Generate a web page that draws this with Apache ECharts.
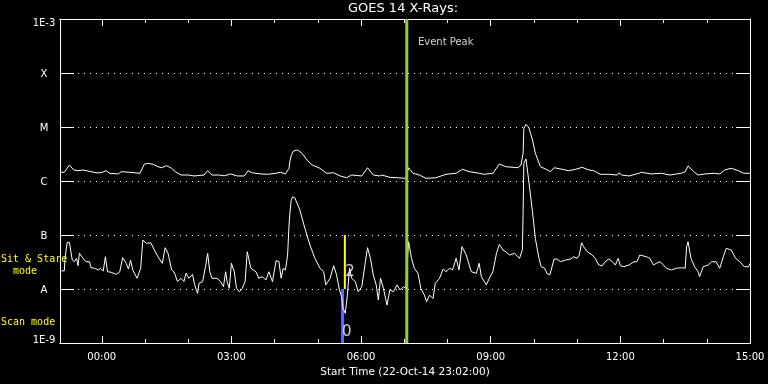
<!DOCTYPE html>
<html><head><meta charset="utf-8">
<script src="https://cdn.jsdelivr.net/npm/echarts@6/dist/echarts.min.js"></script>
<style>html,body{margin:0;padding:0;background:#000}#c{width:768px;height:384px}</style>
</head><body><div id="c"></div>
<script>
// time in minutes from 00:00 (23-Oct-14); start 23:02 = -58
const longTimes = [-57,-52,-45,-39,-33,-26,-15,-8,-1,6,11,23,27,39,53,59,64,71,78,83,90,97,102,110,121,128,142,147,153,163,170,179,188,198,203,209,221,230,242,248,255,260,261,263,266,272,278,285,292,303,312,322,331,340,347,361,369,377,386,389,400,422,426,432,441,450,464,478,492,501,510,524,531,543,552,561,578,582,585,586,589,593,598,602,609,616,623,628,639,648,658,667,676,683,692,704,716,718,722,732,746,749,763,777,789,798,805,810,814,823,828,837,851,858,865,874,884,891,900];
const longFlux = [1.45e-6,1.45e-6,1.98e-6,1.60e-6,1.55e-6,1.60e-6,1.49e-6,1.42e-6,1.42e-6,1.55e-6,1.39e-6,1.35e-6,1.49e-6,1.45e-6,1.39e-6,2.04e-6,2.13e-6,2.04e-6,1.84e-6,1.76e-6,1.92e-6,1.72e-6,1.49e-6,1.29e-6,1.29e-6,1.24e-6,1.29e-6,1.55e-6,1.29e-6,1.29e-6,1.25e-6,1.35e-6,1.24e-6,1.24e-6,1.55e-6,1.42e-6,1.35e-6,1.33e-6,1.39e-6,1.45e-6,1.35e-6,1.72e-6,2.28e-6,2.94e-6,3.59e-6,3.75e-6,3.26e-6,2.45e-6,1.98e-6,1.72e-6,1.39e-6,1.42e-6,1.24e-6,1.15e-6,1.29e-6,1.24e-6,1.76e-6,1.29e-6,1.24e-6,1.29e-6,1.17e-6,1.12e-6,1.76e-6,1.39e-6,1.29e-6,1.12e-6,1.15e-6,1.33e-6,1.39e-6,1.65e-6,1.49e-6,1.39e-6,1.33e-6,1.39e-6,2.06e-6,1.84e-6,1.76e-6,1.98e-6,3.26e-6,9.45e-6,1.12e-5,9.7e-6,5.74e-6,3.26e-6,1.84e-6,1.67e-6,1.49e-6,1.76e-6,1.65e-6,1.55e-6,1.65e-6,1.79e-6,1.60e-6,1.55e-6,1.33e-6,1.33e-6,1.29e-6,1.42e-6,1.29e-6,1.24e-6,1.39e-6,1.45e-6,1.35e-6,1.39e-6,1.29e-6,1.35e-6,1.39e-6,1.49e-6,1.90e-6,1.45e-6,1.29e-6,1.35e-6,1.39e-6,1.35e-6,1.60e-6,1.72e-6,1.55e-6,1.39e-6,1.39e-6];
const shortTimes = [-56,-52,-51,-48,-45,-41,-38,-35,-33,-31,-26,-22,-17,-15,-10,-5,-2,2,5,8,13,20,25,29,34,37,40,43,49,54,57,62,68,73,78,84,88,92,97,100,102,105,110,114,117,121,126,129,133,135,140,144,147,150,153,160,165,169,172,174,177,180,184,187,191,195,199,202,207,214,218,223,228,232,237,242,246,249,252,255,258,260,261,263,265,268,275,282,289,296,303,308,311,317,322,326,330,333,335,338,341,344,347,352,356,361,366,369,373,377,381,384,387,391,396,400,405,410,414,419,422,426,430,434,439,443,448,451,455,460,463,469,474,478,483,487,492,496,500,506,513,520,524,527,534,538,543,548,552,557,561,566,573,580,584,585,586,589,593,598,602,607,610,615,618,622,624,628,632,637,644,651,655,660,663,666,669,674,681,685,690,695,699,704,709,713,717,720,725,732,739,743,747,749,756,761,766,770,775,780,784,791,798,805,810,812,814,818,823,828,830,835,842,847,853,858,863,867,874,880,886,892,898,900];
const shortFlux = [2.17e-8,2.17e-8,3.70e-8,7.3e-8,7.3e-8,3.44e-8,3.2e-8,3.70e-8,2.70e-8,4.58e-8,3.70e-8,3.2e-8,3.2e-8,2.48e-8,2.42e-8,2.25e-8,2.42e-8,2.15e-8,3.96e-8,2.09e-8,2.04e-8,1.87e-8,2.09e-8,3.80e-8,2.99e-8,2.35e-8,3.44e-8,2.25e-8,1.58e-8,2.42e-8,8.07e-8,7.0e-8,7.2e-8,5.27e-8,3.96e-8,2.99e-8,5.82e-8,4.58e-8,2.25e-8,2.09e-8,1.82e-8,1.37e-8,1.58e-8,1.37e-8,1.95e-8,1.58e-8,1.87e-8,1.19e-8,0.83e-8,1.27e-8,1.37e-8,2.59e-8,4.58e-8,2.09e-8,1.58e-8,1.58e-8,1.37e-8,1.10e-8,2.09e-8,1.37e-8,1.03e-8,2.99e-8,2.09e-8,1.03e-8,0.89e-8,1.03e-8,1.37e-8,4.9e-8,2.42e-8,2.09e-8,1.58e-8,1.69e-8,1.47e-8,2.09e-8,1.37e-8,3.34e-8,3.2e-8,1.58e-8,2.42e-8,2.25e-8,4.26e-8,1.53e-7,2.35e-7,4.45e-7,5.1e-7,4.9e-7,2.90e-7,1.33e-7,6.52e-8,3.70e-8,2.42e-8,2.09e-8,1.19e-8,1.58e-8,2.70e-8,1.82e-8,0.96e-8,0.72e-8,0.44e-8,0.355e-8,0.77e-8,2.42e-8,1.58e-8,1.37e-8,0.89e-8,1.10e-8,3.2e-8,5.82e-8,3.70e-8,1.82e-8,1.19e-8,0.626e-8,1.58e-8,1.03e-8,0.505e-8,0.96e-8,0.89e-8,1.19e-8,0.96e-8,1.10e-8,1.03e-8,7.5e-8,3.70e-8,2.42e-8,1.95e-8,1.03e-8,0.77e-8,0.58e-8,0.77e-8,0.67e-8,1.27e-8,1.58e-8,2.35e-8,2.09e-8,2.42e-8,2.25e-8,3.70e-8,2.25e-8,6.07e-8,4.26e-8,2.09e-8,1.95e-8,2.99e-8,1.69e-8,1.19e-8,1.58e-8,2.09e-8,4.58e-8,6.7e-8,5.27e-8,4.9e-8,4.26e-8,4.58e-8,3.70e-8,5.3e-8,2.7e-7,2.13e-6,2.55e-6,0.97e-6,2.7e-7,8.6e-8,3.70e-8,2.59e-8,2.42e-8,1.95e-8,1.82e-8,2.25e-8,3.59e-8,3.59e-8,3.2e-8,3.44e-8,3.59e-8,3.96e-8,3.70e-8,4.26e-8,7.2e-8,6.07e-8,4.9e-8,4.26e-8,3.70e-8,2.78e-8,2.70e-8,3.2e-8,3.59e-8,3.2e-8,2.78e-8,3.70e-8,2.70e-8,2.59e-8,2.78e-8,3.2e-8,3.2e-8,4.26e-8,4.39e-8,3.96e-8,3.70e-8,2.78e-8,2.99e-8,3.2e-8,2.78e-8,2.42e-8,2.25e-8,2.42e-8,2.48e-8,2.42e-8,6.07e-8,7.5e-8,3.70e-8,2.59e-8,2.09e-8,1.69e-8,2.59e-8,2.78e-8,3.2e-8,3.2e-8,2.42e-8,3.96e-8,5.67e-8,5.27e-8,3.70e-8,3.2e-8,2.59e-8,2.59e-8,2.99e-8];

const yTickLabels = ['1E-9','A','B','C','M','X','1E-3'];
const xTickValues = [0,180,360,540,720,900];
const xTickLabels = ['00:00','03:00','06:00','09:00','12:00','15:00'];
const xMinorTicks = [0,60,120,180,240,300,360,420,480,540,600,660,720,780,840,900];
const xRange = [-58, 900];
const yRange = [1e-9, 1e-3];
const eventPeakTime = 423.5;
const sitStareTime = 337.5;
const sitStareRange = [1e-7, 1e-8];
const scanTime = 334.3;
const scanRange = [1e-8, 1e-9];
const annotations = [
  {text:'Event Peak', t:439, f:3.67e-4},
  {text:'2', t:344.7, f:2.02e-8},
  {text:'0', t:340.2, f:1.56e-9}
];

const FONT = 'DejaVu Sans';
const white = '#ffffff';

function xAxisDef(pos, ticks, len, withLabels) {
  const a = {
    type:'value', position:pos, min:xRange[0], max:xRange[1],
    axisLine:{show:true, onZero:false, lineStyle:{color:white, width:1}},
    axisTick:{show:true, inside:true, length:len, customValues:ticks, lineStyle:{color:white,width:1}},
    axisLabel:{show:false},
    splitLine:{show:false}
  };
  if (withLabels) {
    a.axisLabel = {show:true, customValues:xTickValues, color:white, fontFamily:FONT, fontSize:10, margin:9,
      formatter:(v)=>{const i=xTickValues.indexOf(v); return i>=0?xTickLabels[i]:'';}};
    a.name = 'Start Time (22-Oct-14 23:02:00)';
    a.nameLocation = 'middle';
    a.nameGap = 19;
    a.nameTextStyle = {color:white, fontFamily:FONT, fontSize:10.5};
  }
  return a;
}

const chart = echarts.init(document.getElementById('c'), null, {renderer:'canvas'});
chart.setOption({
  backgroundColor:'#000000',
  animation:false,
  grid:{left:60, right:18, top:19, bottom:41, containLabel:false},
  graphic:[
    {type:'text', x:403, y:9, style:{text:'GOES 14 X-Rays:', fill:white, font:'13px "DejaVu Sans"', textAlign:'center', textVerticalAlign:'middle'}},
    {type:'text', left:1, top:253, style:{text:'Sit & Stare\n  mode', fill:'#ffff00', font:'10px "DejaVu Sans Mono"', lineHeight:12}},
    {type:'text', left:1, top:317, style:{text:'Scan mode', fill:'#ffff00', font:'10px "DejaVu Sans Mono"'}}
  ],
  xAxis:[
    xAxisDef('bottom', xTickValues, 7, true),
    xAxisDef('bottom', xMinorTicks, 4, false),
    xAxisDef('top', xTickValues, 7, false),
    xAxisDef('top', xMinorTicks, 4, false)
  ],
  yAxis:[
    {type:'log', logBase:10, position:'left', min:yRange[0], max:yRange[1],
     axisLine:{show:true, onZero:false, lineStyle:{color:white,width:1}},
     axisTick:{show:true, inside:true, length:14, lineStyle:{color:white,width:1}},
     minorTick:{show:false},
     axisLabel:{show:true, color:white, fontFamily:FONT, fontSize:10, align:'center', margin:16,
       formatter:(v)=>{const i=Math.round(Math.log10(v))+9; const s=yTickLabels[i]||'';
         if (i===6) return '{top|'+s+'}'; if (i===0) return '{bot|'+s+'}'; return '{mid|'+s+'}';},
       rich:{top:{padding:[9,0,0,0], color:white, fontFamily:FONT, fontSize:10},
             bot:{padding:[0,0,5,0], color:white, fontFamily:FONT, fontSize:10},
             mid:{padding:[2,0,0,0], color:white, fontFamily:FONT, fontSize:10}}},
     splitLine:{show:true, lineStyle:{color:white, width:1, type:[1,5]}}
    },
    {type:'log', logBase:10, position:'right', min:yRange[0], max:yRange[1],
     axisLine:{show:true, onZero:false, lineStyle:{color:white,width:1}},
     axisTick:{show:true, inside:true, length:14, lineStyle:{color:white,width:1}},
     axisLabel:{show:false}, splitLine:{show:false}
    }
  ],
  series:[
    {type:'line', name:'long', data:longTimes.map((t,i)=>[t,longFlux[i]]), showSymbol:false, symbol:'none',
     lineStyle:{color:white, width:1}, z:3},
    {type:'line', name:'short', data:shortTimes.map((t,i)=>[t,shortFlux[i]]), showSymbol:false, symbol:'none',
     lineStyle:{color:white, width:1}, z:3},
    {type:'line', name:'scan', data:scanRange.map(f=>[scanTime,f]), symbol:'none',
     lineStyle:{color:'#6464ff', width:3}, z:2},
    {type:'line', name:'sitstare', data:sitStareRange.map(f=>[sitStareTime,f]), symbol:'none',
     lineStyle:{color:'#ffff00', width:2}, z:4},
    {type:'line', name:'event', data:yRange.map(f=>[eventPeakTime,f]), symbol:'none',
     lineStyle:{color:'#9acd32', width:3}, z:5},
    {type:'scatter', name:'notes', symbolSize:0, z:6,
     data:annotations.map(a=>({value:[a.t,a.f], label:{show:true, formatter:a.text,
       position: a.text==='Event Peak'?'right':'inside', distance:0,
       color:white, fontFamily:FONT, fontSize: a.text==='Event Peak'?10:15}}))}
  ]
});
</script>
</body></html>
